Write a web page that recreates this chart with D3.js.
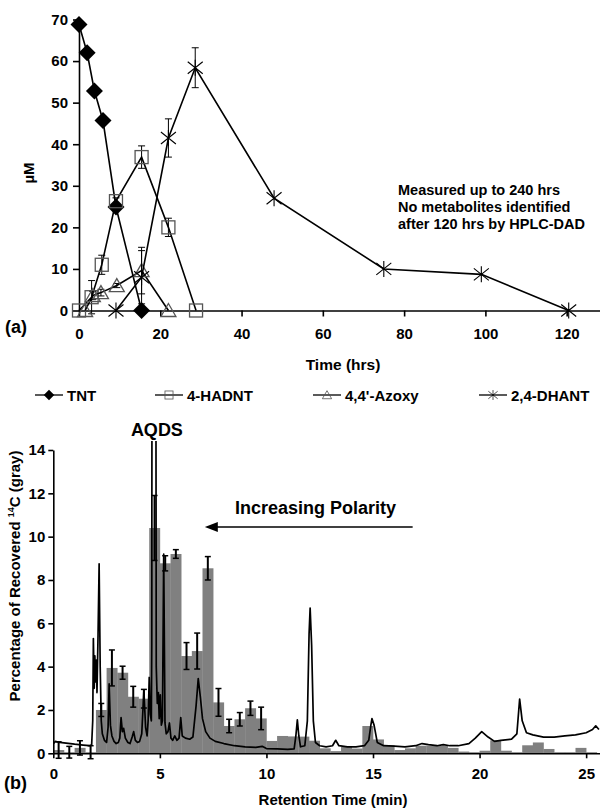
<!DOCTYPE html>
<html>
<head>
<meta charset="utf-8">
<script src="https://cdn.jsdelivr.net/npm/d3@7"></script>
<style>
  body { margin: 0; background: #fff; }
  text { font-family: "Liberation Sans", Arial, sans-serif; font-weight: bold; fill: #000; }
</style>
</head>
<body>
<script>
// (a) concentrations, [time (hrs), uM, error]
const tnt = [[0, 68.8, 0], [2, 62, 0], [3.8, 52.8, 0], [5.9, 45.7, 0], [9.1, 24.9, 0], [15.4, 0, 0]];
const hadnt = [[0, 0, 0], [3.1, 3.2, 4], [5.6, 11, 2.3], [9.1, 26.3, 0.8], [15.4, 36.9, 2.7], [22, 20, 2.2], [28.8, 0, 0]];
const azoxy = [[1.5, 0, 0], [3.4, 3.6, 1], [5.4, 4.3, 0.8], [9.3, 6, 0.5], [15.4, 9.6, 5.6], [22, 0, 0]];
const dhant = [[9.1, 0, 0], [15.4, 8, 6.4], [22, 41.5, 4.6], [28.6, 58.4, 4.8], [48, 27, 0], [75, 10, 0], [99, 8.7, 0], [120.5, 0, 0]];
const hrsTicks = [0, 20, 40, 60, 80, 100, 120];
const umTicks = [0, 10, 20, 30, 40, 50, 60, 70];
const noteLines = ['Measured up to 240 hrs', 'No metabolites identified', 'after 120 hrs by HPLC-DAD'];

// (b) 14C fractions, 0.5 min bins starting at 0
const binStart = d3.range(0, 25.5, 0.5);
const binPct = [0.15, 0.05, 0.25, 0.05, 2.0, 3.94, 3.72, 2.61, 2.52, 10.4, 8.77, 9.2, 4.49, 4.72, 8.54, 2.35,
  1.26, 1.57, 2.08, 1.61, 0.57, 0.8, 0.78, 0.77, 0.58, 0.23, 0.1, 0.3, 0.22, 1.26, 0.64, 0.37, 0.15, 0.23,
  0.35, 0.35, 0.35, 0.25, 0.08, 0.05, 0.12, 0.6, 0.12, 0.05, 0.37, 0.5, 0.2, 0.05, 0.05, 0.25, 0.05];
const binErr = [0.38, 0.27, 0.33, 0.3, 0.3, 0.83, 0.3, 0.48, 0.43, 1.5, 0.35, 0.2, 0.62, 0.83, 0.54, 0.64,
  0.31, 0.31, 0.33, 0.52];
// HPLC trace, [min, response]
const trace = [[0, 0.45], [0.1, 0.55], [0.3, 0.5], [0.6, 0.47], [1.0, 0.42], [1.4, 0.38], [1.7, 0.35], [1.8, 0.4],
  [1.85, 1.5], [1.88, 5.3], [1.92, 3.0], [1.95, 4.5], [1.98, 3.3], [2.02, 4.3], [2.05, 2.8], [2.1, 5.5],
  [2.15, 8.75], [2.2, 4.0], [2.25, 1.5], [2.3, 0.9], [2.4, 0.6], [2.5, 0.5], [2.57, 1.2], [2.62, 3.2],
  [2.68, 1.3], [2.75, 0.8], [2.85, 0.55], [2.95, 0.45], [3.05, 0.5], [3.12, 0.7], [3.18, 1.65], [3.24, 1.0],
  [3.3, 1.15], [3.38, 0.7], [3.5, 0.5], [3.6, 0.45], [3.7, 0.75], [3.77, 1.0], [3.85, 0.6], [3.95, 0.5],
  [4.05, 0.55], [4.15, 0.9], [4.25, 2.9], [4.33, 1.2], [4.4, 0.8], [4.45, 1.5], [4.5, 3.5], [4.55, 1.8],
  [4.6, 1.5], [4.62, 5], [4.64, 30], [4.8, 30], [4.83, 4], [4.88, 2.3], [4.93, 2.8], [4.97, 1.6], [5.02, 2.7],
  [5.07, 1.3], [5.12, 1.5], [5.18, 9.2], [5.24, 1.4], [5.3, 0.9], [5.38, 1.0], [5.45, 1.4], [5.52, 0.7],
  [5.6, 0.6], [5.7, 0.8], [5.8, 0.6], [5.9, 0.7], [5.98, 1.65], [6.05, 0.8], [6.2, 0.7], [6.4, 0.65],
  [6.55, 0.75], [6.7, 2.2], [6.8, 3.45], [6.9, 2.6], [7.0, 1.6], [7.15, 1.0], [7.35, 0.7], [7.6, 0.55],
  [8.0, 0.45], [8.5, 0.35], [9.0, 0.3], [9.5, 0.27], [9.8, 0.32], [10.0, 0.22], [10.5, 0.2], [11.0, 0.18],
  [11.3, 0.2], [11.38, 0.8], [11.45, 1.54], [11.52, 0.8], [11.6, 0.3], [11.8, 0.35], [11.92, 1.5],
  [12.0, 5.5], [12.05, 6.7], [12.12, 5.0], [12.2, 1.5], [12.3, 0.5], [12.5, 0.35], [12.8, 0.3], [13.1, 0.35],
  [13.25, 0.6], [13.4, 0.35], [13.8, 0.3], [14.2, 0.3], [14.6, 0.35], [14.8, 0.6], [14.9, 1.3], [14.95, 1.6],
  [15.05, 1.3], [15.2, 0.5], [15.5, 0.35], [16, 0.33], [16.5, 0.3], [17, 0.35], [17.3, 0.45], [17.6, 0.4],
  [18, 0.35], [18.3, 0.4], [18.6, 0.35], [19, 0.35], [19.5, 0.45], [19.8, 0.7], [20.1, 1.0], [20.4, 0.75],
  [20.7, 0.55], [21.0, 0.6], [21.5, 0.65], [21.75, 0.9], [21.88, 2.5], [22.0, 1.5], [22.2, 0.95],
  [22.5, 0.85], [23, 0.75], [23.5, 0.75], [24, 0.8], [24.5, 0.85], [25, 0.95], [25.3, 1.1], [25.45, 1.27],
  [25.6, 1.1]];
const minTicks = [0, 5, 10, 15, 20, 25];
const pctTicks = [0, 2, 4, 6, 8, 10, 12, 14];

const svg = d3.select('body').append('svg')
  .attr('width', 600)
  .attr('height', 808);

const styleAxis = g => {
  g.attr('font-size', 15).attr('font-family', '"Liberation Sans", Arial, sans-serif').attr('font-weight', 'bold');
  g.selectAll('path, line').attr('stroke', '#000').attr('stroke-width', 1.6);
};

// ---------- (a) ----------
const x1 = d3.scaleLinear().domain([0, 128.2]).range([79, 600]);
const y1 = d3.scaleLinear().domain([0, 70]).range([310.5, 19.5]);

svg.append('g')
  .attr('transform', 'translate(0,310.5)')
  .call(d3.axisBottom(x1).tickValues(hrsTicks).tickSize(6).tickSizeOuter(0).tickPadding(12))
  .call(styleAxis);

svg.append('g')
  .attr('transform', 'translate(79,0)')
  .call(d3.axisLeft(y1).tickValues(umTicks).tickSize(6).tickSizeOuter(0).tickPadding(5))
  .call(styleAxis);

const markers = {
  diamond: (g) => g.append('path').attr('d', 'M0,-8.5L8.5,0L0,8.5L-8.5,0Z').attr('fill', '#000'),
  square: (g) => g.append('rect').attr('x', -6.5).attr('y', -6.5).attr('width', 13).attr('height', 13)
    .attr('fill', 'none').attr('stroke', '#555').attr('stroke-width', 1.3),
  triangle: (g) => g.append('path').attr('d', 'M0,-7L7.5,6L-7.5,6Z')
    .attr('fill', 'none').attr('stroke', '#555').attr('stroke-width', 1.3),
  star: (g) => g.append('path').attr('d', 'M0,-8V8M-7.5,-6L7.5,6M-7.5,6L7.5,-6')
    .attr('fill', 'none').attr('stroke', '#000').attr('stroke-width', 1.1)
};

const series = [
  { name: 'TNT', data: tnt, marker: 'diamond' },
  { name: '4-HADNT', data: hadnt, marker: 'square' },
  { name: "4,4'-Azoxy", data: azoxy, marker: 'triangle' },
  { name: '2,4-DHANT', data: dhant, marker: 'star' }
];

const line1 = d3.line().x(d => x1(d[0])).y(d => y1(d[1]));

series.forEach(s => {
  svg.append('path')
    .attr('d', line1(s.data))
    .attr('fill', 'none')
    .attr('stroke', '#000')
    .attr('stroke-width', 1.6);

  const eb = svg.append('g').selectAll('g')
    .data(s.data.filter(d => d[2] > 0)).enter()
    .append('g');
  eb.append('line')
    .attr('x1', d => x1(d[0])).attr('x2', d => x1(d[0]))
    .attr('y1', d => y1(d[1] - d[2])).attr('y2', d => y1(d[1] + d[2]));
  eb.append('line')
    .attr('x1', d => x1(d[0]) - 3.5).attr('x2', d => x1(d[0]) + 3.5)
    .attr('y1', d => y1(d[1] + d[2])).attr('y2', d => y1(d[1] + d[2]));
  eb.append('line')
    .attr('x1', d => x1(d[0]) - 3.5).attr('x2', d => x1(d[0]) + 3.5)
    .attr('y1', d => y1(d[1] - d[2])).attr('y2', d => y1(d[1] - d[2]));
  eb.selectAll('line').attr('stroke', '#000').attr('stroke-width', 1);

  svg.append('g').selectAll('g')
    .data(s.data).enter()
    .append('g')
    .attr('transform', d => `translate(${x1(d[0])},${y1(d[1])})`)
    .each(function () { markers[s.marker](d3.select(this)); });
});

svg.append('g').selectAll('text')
  .data(noteLines).enter()
  .append('text')
  .attr('x', x1(78.5))
  .attr('y', (d, i) => 195 + i * 17)
  .attr('font-size', 14.5)
  .text(d => d);

svg.append('text').attr('x', 343).attr('y', 369.5).attr('text-anchor', 'middle').attr('font-size', 15.5).text('Time (hrs)');
svg.append('text').attr('transform', 'translate(34,173) rotate(-90)').attr('text-anchor', 'middle').attr('font-size', 15).text('µM');
svg.append('text').attr('x', 5).attr('y', 333).attr('font-size', 18).text('(a)');

// legend
const legendX = [35, 155, 313, 479];
const leg = svg.append('g').selectAll('g')
  .data(series).enter()
  .append('g')
  .attr('transform', (d, i) => `translate(${legendX[i]},395)`);
leg.append('line').attr('x1', 0).attr('x2', 28).attr('stroke', '#000').attr('stroke-width', 1.3);
leg.append('g').attr('transform', 'translate(14,0) scale(0.62)')
  .each(function (d) { markers[d.marker](d3.select(this)); });
leg.append('text').attr('x', 32).attr('y', 5.5).attr('font-size', 15).text(d => d.name);

// ---------- (b) ----------
const x2 = d3.scaleLinear().domain([0, 25.65]).range([53.3, 600]);
const y2 = d3.scaleLinear().domain([0, 14]).range([753.3, 450]);

svg.append('g').selectAll('rect')
  .data(binStart).enter()
  .append('rect')
  .attr('x', d => x2(d))
  .attr('width', d => x2(d + 0.5) - x2(d) + 0.3)
  .attr('y', (d, i) => y2(binPct[i]))
  .attr('height', (d, i) => y2(0) - y2(binPct[i]))
  .attr('fill', '#808080');

svg.append('defs').append('clipPath').attr('id', 'clipb')
  .append('rect').attr('x', 53.3).attr('y', 441).attr('width', 547).attr('height', 320);

svg.append('path')
  .attr('d', d3.line().x(d => x2(d[0])).y(d => y2(d[1]))(trace))
  .attr('clip-path', 'url(#clipb)')
  .attr('fill', 'none')
  .attr('stroke', '#000')
  .attr('stroke-width', 1.7)
  .attr('stroke-linejoin', 'round');

const errB = svg.append('g').selectAll('g')
  .data(binErr).enter()
  .append('g')
  .attr('stroke', '#000');
const ebx = i => x2(binStart[i] + 0.25);
errB.append('line')
  .attr('x1', (d, i) => ebx(i)).attr('x2', (d, i) => ebx(i))
  .attr('y1', (d, i) => y2(binPct[i] - d)).attr('y2', (d, i) => y2(binPct[i] + d))
  .attr('stroke-width', 2);
errB.append('line')
  .attr('x1', (d, i) => ebx(i) - 3).attr('x2', (d, i) => ebx(i) + 3)
  .attr('y1', (d, i) => y2(binPct[i] + d)).attr('y2', (d, i) => y2(binPct[i] + d))
  .attr('stroke-width', 1.5);
errB.append('line')
  .attr('x1', (d, i) => ebx(i) - 3).attr('x2', (d, i) => ebx(i) + 3)
  .attr('y1', (d, i) => y2(binPct[i] - d)).attr('y2', (d, i) => y2(binPct[i] - d))
  .attr('stroke-width', 1.5);

svg.append('g')
  .attr('transform', 'translate(0,753.3)')
  .call(d3.axisBottom(x2).tickValues(minTicks).tickSize(5).tickSizeOuter(0).tickPadding(10))
  .call(styleAxis);

svg.append('g')
  .attr('transform', 'translate(53.3,0)')
  .call(d3.axisLeft(y2).tickValues(pctTicks).tickSize(5).tickSizeOuter(0).tickPadding(3))
  .call(styleAxis);

svg.append('text').attr('x', 333).attr('y', 805).attr('text-anchor', 'middle').attr('font-size', 15).text('Retention Time (min)');
svg.append('text').attr('x', 4).attr('y', 789).attr('font-size', 18).text('(b)');

const yt = svg.append('text')
  .attr('transform', 'translate(20,576) rotate(-90)')
  .attr('text-anchor', 'middle')
  .attr('font-size', 15);
yt.append('tspan').text('Percentage of Recovered ');
yt.append('tspan').attr('font-size', 9).attr('dy', -6).text('14');
yt.append('tspan').attr('dy', 6).text('C (gray)');

svg.append('text').attr('x', x2(4.86)).attr('y', 436).attr('text-anchor', 'middle').attr('font-size', 18).text('AQDS');
svg.append('text').attr('x', x2(8.52)).attr('y', 514).attr('font-size', 18).text('Increasing Polarity');
svg.append('line')
  .attr('x1', x2(16.86)).attr('x2', x2(7.5))
  .attr('y1', y2(10.44)).attr('y2', y2(10.44))
  .attr('stroke', '#000').attr('stroke-width', 1.5);
svg.append('path')
  .attr('d', `M${x2(7.11)},${y2(10.44)}l13,-5v10z`)
  .attr('fill', '#000');
</script>
</body>
</html>
